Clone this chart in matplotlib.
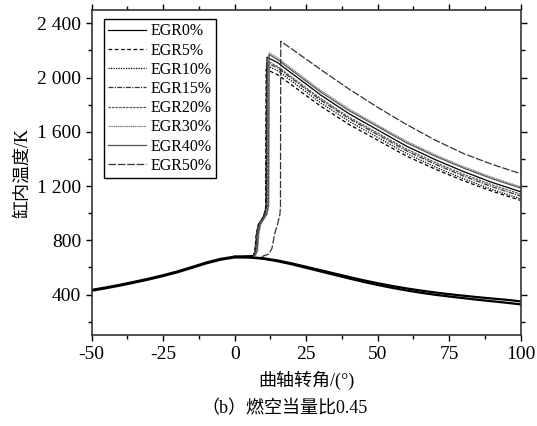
import matplotlib
matplotlib.use("Agg")
import matplotlib.pyplot as plt
from matplotlib.ticker import MultipleLocator, FuncFormatter

plt.rcParams['font.family'] = ['Liberation Serif', 'Noto Sans CJK SC']
plt.rcParams['axes.unicode_minus'] = False

# shared compression stroke (all cases overlap here)
comp_deg = [-50, -45, -40, -35, -30, -25, -20, -15, -10, -5, 0, 5, 6.5]
comp_T = [432, 450, 470, 492, 515, 540, 568, 600, 633, 660, 677, 680, 681]

# lower band after TDC (two close curves)
mot_deg = [0, 5, 10, 15, 20, 25, 30, 35, 40, 45, 50, 55, 60, 65, 70, 75, 80, 85, 90, 95, 100]
mot_T_a = [678, 676, 668, 652, 630, 605, 580, 555, 530, 506, 484, 464, 446, 430, 416, 403, 392, 381, 371, 362, 350]
mot_T_b = [678, 674, 664, 646, 623, 597, 571, 545, 519, 494, 471, 450, 431, 414, 399, 386, 374, 362, 351, 340, 328]

labels = ["EGR0%", "EGR5%", "EGR10%", "EGR15%", "EGR20%", "EGR30%", "EGR40%", "EGR50%"]

# fired branch of each case: crank angle and temperature
deg_egr0 = [6.5, 7.3, 7.8, 8.5, 9.5, 10.5, 11.1, 11.3, 15, 20, 25, 30, 40, 50, 60, 70, 80, 90, 100]
T_egr0 = [681, 720, 850, 920, 950, 990, 1050, 2150, 2110, 2030, 1952, 1872, 1733, 1614, 1495, 1396, 1307, 1227, 1158]
deg_egr5 = [6.3, 7.0, 7.5, 8.2, 9.2, 10.2, 10.8, 11.0, 15, 20, 25, 30, 40, 50, 60, 70, 80, 90, 100]
T_egr5 = [681, 715, 840, 915, 945, 985, 1040, 2060, 2021, 1944, 1867, 1790, 1654, 1538, 1422, 1326, 1239, 1162, 1094]
deg_egr10 = [6.4, 7.1, 7.6, 8.3, 9.3, 10.3, 10.9, 11.1, 15, 20, 25, 30, 40, 50, 60, 70, 80, 90, 100]
T_egr10 = [681, 718, 845, 918, 948, 988, 1045, 2090, 2051, 1972, 1893, 1814, 1677, 1559, 1441, 1342, 1254, 1175, 1106]
deg_egr15 = [6.5, 7.2, 7.7, 8.4, 9.4, 10.4, 11.0, 11.2, 15, 20, 25, 30, 40, 50, 60, 70, 80, 90, 100]
T_egr15 = [681, 718, 848, 920, 950, 990, 1048, 2110, 2071, 1992, 1913, 1834, 1697, 1579, 1461, 1362, 1274, 1195, 1126]
deg_egr20 = [6.7, 7.5, 8.0, 8.7, 9.7, 10.8, 11.4, 11.6, 15, 20, 25, 30, 40, 50, 60, 70, 80, 90, 100]
T_egr20 = [681, 720, 850, 922, 952, 992, 1050, 2120, 2081, 2002, 1924, 1846, 1708, 1591, 1473, 1375, 1287, 1209, 1140]
deg_egr30 = [7.0, 8.0, 8.5, 9.2, 10.2, 11.3, 11.9, 12.1, 15, 20, 25, 30, 40, 50, 60, 70, 80, 90, 100]
T_egr30 = [681, 722, 855, 925, 955, 995, 1055, 2182, 2145, 2065, 1985, 1906, 1768, 1649, 1531, 1432, 1343, 1264, 1195]
deg_egr40 = [6.9, 7.8, 8.3, 9.0, 10.0, 11.2, 11.8, 12.0, 15, 20, 25, 30, 40, 50, 60, 70, 80, 90, 100]
T_egr40 = [681, 720, 852, 923, 953, 993, 1052, 2170, 2132, 2052, 1973, 1894, 1756, 1638, 1520, 1421, 1333, 1254, 1185]
deg_egr50 = [9.5, 12.0, 13.0, 14.0, 15.0, 15.8, 16.0, 16.1, 20, 25, 30, 40, 50, 60, 70, 80, 90, 100]
T_egr50 = [680, 700, 740, 850, 920, 990, 1050, 2267, 2210, 2135, 2060, 1915, 1780, 1655, 1540, 1440, 1360, 1291]

fired_deg = [deg_egr0, deg_egr5, deg_egr10, deg_egr15, deg_egr20, deg_egr30, deg_egr40, deg_egr50]
fired_T = [T_egr0, T_egr5, T_egr10, T_egr15, T_egr20, T_egr30, T_egr40, T_egr50]

styles = [
    dict(color="black", ls="-"),
    dict(color="black", ls=(0, (3, 2))),
    dict(color="black", ls=(0, (1, 1))),
    dict(color="#333333", ls=(0, (4, 1, 1, 1))),
    dict(color="#555555", ls=(0, (2, 0.8))),
    dict(color="#777777", ls=(0, (1, 0.5))),
    dict(color="#555555", ls="-"),
    dict(color="#333333", ls=(0, (6, 1.5))),
]

fig = plt.figure(figsize=(5.37, 4.26), dpi=100)
ax = fig.add_axes([0.1708, 0.2129, 0.7988, 0.7643])

ax.plot(comp_deg, comp_T, color="black", lw=2.2)
ax.plot(mot_deg, mot_T_a, color="black", lw=1.6)
ax.plot(mot_deg, mot_T_b, color="black", lw=1.6)

for d, t, lab, st in zip(fired_deg, fired_T, labels, styles):
    ax.plot(d, t, lw=0.9, label=lab, **st)

ax.set_xlim(-50, 100)
ax.set_ylim(100, 2500)
ax.xaxis.set_major_locator(MultipleLocator(25))
ax.xaxis.set_minor_locator(MultipleLocator(12.5))
ax.yaxis.set_major_locator(MultipleLocator(400))
ax.yaxis.set_minor_locator(MultipleLocator(200))
ax.yaxis.set_major_formatter(FuncFormatter(lambda v, p: f"{int(v):,}".replace(",", " ")))

ax.tick_params(which="both", direction="out", top=True, right=True, labeltop=False, labelright=False)
ax.tick_params(which="major", length=4, width=1, labelsize=14)
ax.tick_params(which="minor", length=3, width=1)
for s in ax.spines.values():
    s.set_linewidth(1.2)
    s.set_color("#333333")

ax.set_ylabel("缸内温度/K", fontsize=13, labelpad=4)
ax.set_xlabel("曲轴转角/(°)", fontsize=13, labelpad=6)
fig.text(0.53, 0.03, "（b）燃空当量比0.45", ha="center", fontsize=13)

leg = ax.legend(loc="upper left", bbox_to_anchor=(0.028, 0.97), fontsize=11.5, frameon=True,
                fancybox=False, framealpha=1, edgecolor="black", handlelength=2.4,
                labelspacing=0.2, borderpad=0.25, handletextpad=0.3, borderaxespad=0)
leg.get_frame().set_linewidth(1.0)

fig.savefig("out.png", dpi=100)
